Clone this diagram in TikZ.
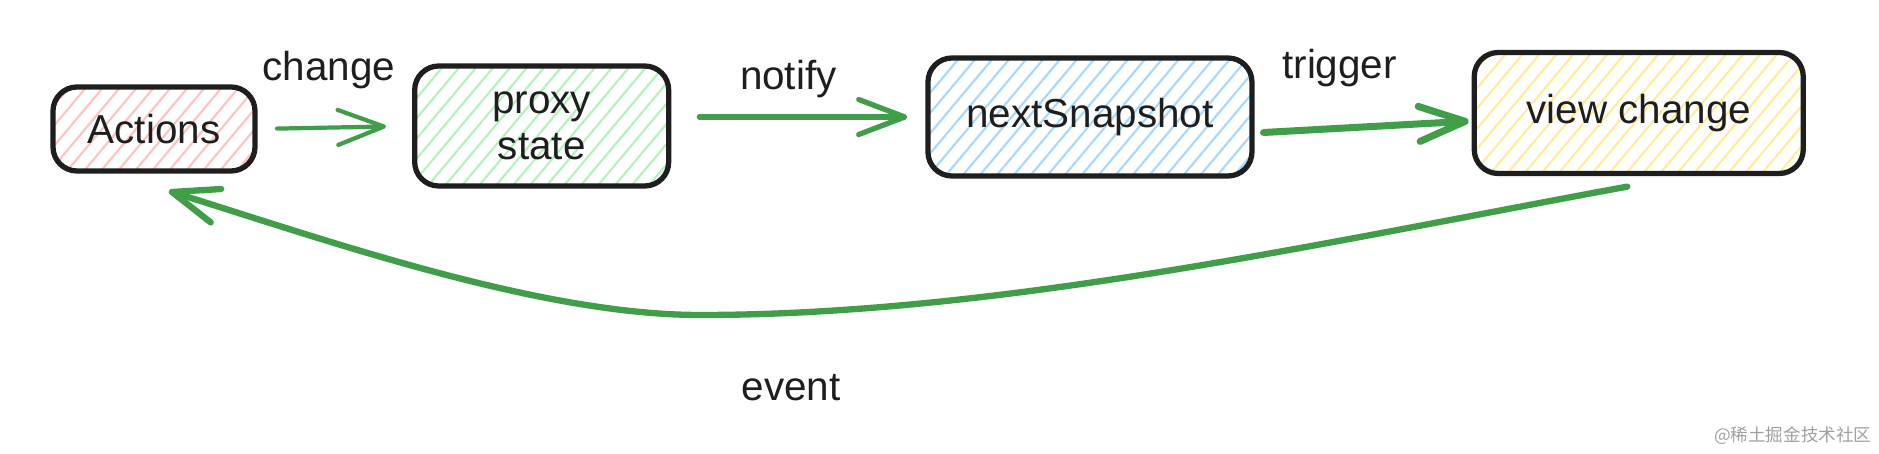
\documentclass[tikz,border=0pt]{standalone}
\usepackage{fontspec}
\setmainfont{Liberation Sans}
\newfontfamily\cjk{Noto Sans CJK SC}
\usetikzlibrary{arrows.meta,positioning,patterns.meta}
\usepackage{xcolor}
\definecolor{ink}{HTML}{1E1E1E}
\definecolor{leaf}{HTML}{419E48}
\definecolor{rose}{HTML}{FFC2C2}
\definecolor{mint}{HTML}{B2F2BB}
\definecolor{sky}{HTML}{A5D8FF}
\definecolor{lemon}{HTML}{FFEC99}
\definecolor{wmgrey}{HTML}{A0A0A0}
\tikzset{
  box/.style={draw=ink,line width=1.5pt,rounded corners=2.4mm,align=center,text=ink,
    font=\fontsize{11.5}{13}\selectfont,
    pattern={Lines[angle=50,distance=1.3mm,line width=0.6pt]},pattern color=#1},
  arr/.style={-{Straight Barb[length=4.6mm,width=3.5mm,round]},line width=1.4pt,draw=leaf,line cap=round},
  lbl/.style={text=ink,font=\fontsize{11.5}{13}\selectfont}
}
\begin{document}
\begin{tikzpicture}[node distance=2mm]
        \useasboundingbox (0,0) rectangle (18.79,4.53);
        \node[box=rose,minimum width=2.02cm,minimum height=0.84cm] (act) at (1.54,3.24) {Actions};
        \node[box=mint,minimum width=2.54cm,minimum height=1.20cm,right=1.56cm of act,yshift=0.3mm] (px) {proxy\\state};
        \node[box=sky,minimum width=3.24cm,minimum height=1.18cm,right=2.54cm of px,yshift=0.9mm] (nx) {nextSnapshot};
        \node[box=lemon,minimum width=3.29cm,minimum height=1.21cm,right=2.17cm of nx,yshift=0.4mm] (vw) {view change};
        \coordinate (low) at (7.0,1.38);
        \draw[arr,line width=1.2pt,shorten <=2.1mm,shorten >=2.6mm] (act.east) -- node[lbl,xshift=-0.5mm,yshift=5.7mm] {change} (px.west);
        \draw[arr,line width=1.5pt,shorten <=2.8mm,shorten >=1.8mm] (px.east |- nx.west) -- node[lbl,xshift=-1mm,yshift=3.8mm] {notify} (nx.west);
        \draw[arr,line width=2pt,shorten <=0.9mm,shorten >=0.3mm] ([yshift=-1.6mm]nx.east) -- node[lbl,xshift=-2.35mm,yshift=5.9mm] {trigger} ([yshift=-0.8mm]vw.west);
        \draw[arr,line width=1.8pt] ([xshift=-1.15mm,yshift=-1.05mm]vw.south) .. controls +(-3,-0.55) and +(3,0) .. (low)
          .. controls +(-1.6,0) and +(1.6,-0.5) .. ([xshift=1.5mm,yshift=-1.9mm]act.south);
        \node[lbl] (ev) at (7.91,0.65) {event};
        \node[text=wmgrey,font=\cjk\fontsize{5}{6}\selectfont,anchor=east,inner sep=0pt] (wm) at (18.72,0.17) {@稀土掘金技术社区};
      \end{tikzpicture}
\end{document}
